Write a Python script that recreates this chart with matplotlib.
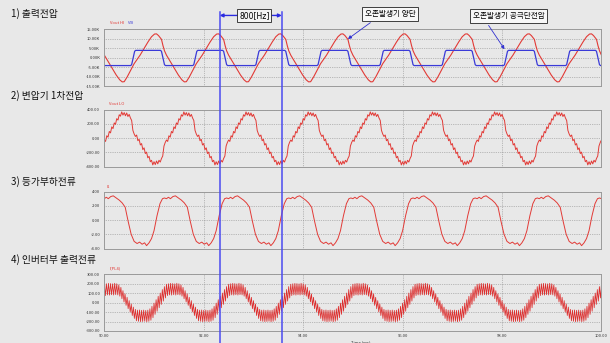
import numpy as np
import matplotlib.pyplot as plt
from matplotlib import transforms
from matplotlib.lines import Line2D

plt.rcParams['font.family'] = ['Noto Sans CJK KR', 'DejaVu Sans']

# time axis: 8 periods of 800 Hz between 90 ms and 100 ms
t_start = 90.0
t_end = 100.0
period = 1.25
n_periods = 8
x_ticks = [90, 92, 94, 96, 98, 100]
x_tick_labels = ['90.00', '92.00', '94.00', '96.00', '98.00', '100.00']

# 1) output voltage, one period read from the scope (kV)
vout_hi_phase = [0.00, 0.08, 0.16, 0.24, 0.31, 0.36, 0.40, 0.46, 0.54, 0.60, 0.64,
                 0.72, 0.80, 0.88, 0.95, 1.01, 1.05, 1.09, 1.15, 1.18, 1.21]
vout_hi_kv = [1.5, -2.0, -5.5, -9.0, -11.5, -12.6, -12.5, -10.0, -6.0, -3.0, -1.5,
              1.5, 5.0, 8.5, 11.2, 12.6, 12.7, 11.8, 9.8, 6.5, 3.8]
vb_phase = [0.00, 0.53, 0.55, 0.58, 0.61, 0.63, 1.13, 1.15, 1.18, 1.21, 1.23]
vb_kv = [-4.0, -4.0, -3.5, 0.0, 3.5, 4.0, 4.0, 3.5, 0.0, -3.5, -4.0]
y1_ticks = [15, 10, 5, 0, -5, -10, -15]
y1_labels = ['15.00K', '10.00K', '5.00K', '0.00K', '-5.00K', '-10.00K', '-15.00K']

# 2) transformer primary voltage (V)
vout_lo_phase = [0.000, 0.025, 0.050, 0.075, 0.100, 0.125, 0.150, 0.175, 0.200, 0.225,
                 0.250, 0.275, 0.300, 0.325, 0.350, 0.375, 0.400, 0.425, 0.450, 0.475,
                 0.500, 0.525, 0.550, 0.575, 0.600, 0.625, 0.650, 0.675, 0.700, 0.725,
                 0.750, 0.775, 0.800, 0.825, 0.850, 0.875, 0.900, 0.925, 0.950, 0.975,
                 1.000, 1.025, 1.050, 1.075, 1.100, 1.125, 1.150, 1.175, 1.200, 1.225]
vout_lo_v = [-25, -45, 35, 15, 95, 75, 160, 135, 215, 195,
             275, 255, 330, 310, 370, 325, 360, 315, 355, 305,
             335, 285, 250, 110, 60, 25, 45, -35, -15, -95,
             -75, -160, -135, -215, -195, -275, -255, -330, -310, -375,
             -330, -370, -320, -360, -310, -335, -285, -250, -110, -60]
y2_ticks = [400, 200, 0, -200, -400]
y2_labels = ['400.00', '200.00', '0.00', '-200.00', '-400.00']

# 3) equivalent load current (A)
i1_phase = [0.00, 0.04, 0.08, 0.13, 0.18, 0.24, 0.30, 0.36, 0.42, 0.48, 0.54, 0.60,
            0.66, 0.71, 0.76, 0.81, 0.85, 0.90, 0.95, 1.00, 1.06, 1.12, 1.17, 1.21]
i1_a = [3.0, 3.2, 3.0, 3.3, 3.4, 3.1, 2.8, 2.4, 1.8, -0.2, -2.0, -3.0,
        -3.3, -3.1, -3.4, -3.2, -3.6, -3.2, -2.6, -1.5, 0.6, 2.3, 3.0, 3.1]
y3_ticks = [4, 2, 0, -2, -4]
y3_labels = ['4.00', '2.00', '0.00', '-2.00', '-4.00']

# 4) inverter output current: switching ripple peaks over one period (A)
ripple_hi = [193, 198, 202, 200, 197, 203, 198, 187, 160, 125,
             92, 55, 20, -15, -48, -72, -80, -78, -82, -79,
             -83, -80, -66, -40, -6, 30, 66, 100, 137, 168]
ripple_lo = [73, 80, 78, 82, 79, 83, 80, 67, 40, 6,
             -30, -65, -100, -137, -168, -193, -198, -202, -200, -197,
             -203, -198, -187, -160, -125, -92, -55, -20, 15, 48]
y4_ticks = [300, 200, 100, 0, -100, -200, -300]
y4_labels = ['300.00', '200.00', '100.00', '0.00', '-100.00', '-200.00', '-300.00']

marker_times = [92.32, 93.57]

red = '#e23a36'
blue = '#3a3ad8'
bg = '#e8e8e8'


def repeat(phase, vals):
    t = np.concatenate([t_start + k * period + np.asarray(phase) for k in range(n_periods)])
    v = np.tile(vals, n_periods)
    return np.append(t, t_end), np.append(v, vals[0])


fig = plt.figure(figsize=(6.1, 3.43), dpi=100, facecolor=bg)

boxes = [0.748, 0.514, 0.2755, 0.035]
axes = []
for b in boxes:
    ax = fig.add_axes([0.171, b, 0.815, 0.166])
    ax.set_facecolor(bg)
    ax.set_xlim(t_start, t_end)
    ax.set_xticks(x_ticks)
    for s in ax.spines.values():
        s.set_color('#9a9a9a')
        s.set_linewidth(0.7)
    ax.grid(color='#8a8a8a', ls=(0, (1, 1.6)), lw=0.5)
    ax.tick_params(length=0, labelsize=3, pad=3, colors='#333333')
    ax.tick_params(axis='x', labelbottom=False)
    axes.append(ax)
ax1, ax2, ax3, ax4 = axes

# panel 1
t, v = repeat(vout_hi_phase, vout_hi_kv)
ax1.plot(t, v, color=red, lw=0.8)
t, v = repeat(vb_phase, vb_kv)
ax1.plot(t, v, color=blue, lw=0.9)
ax1.set_ylim(-15, 15)
ax1.set_yticks(y1_ticks, y1_labels)

# panel 2
t, v = repeat(vout_lo_phase, vout_lo_v)
ax2.plot(t, v, color=red, lw=0.7)
ax2.set_ylim(-400, 400)
ax2.set_yticks(y2_ticks, y2_labels)

# panel 3
t, v = repeat(i1_phase, i1_a)
ax3.plot(t, v, color=red, lw=0.7)
ax3.set_ylim(-4, 4)
ax3.set_yticks(y3_ticks, y3_labels)

# panel 4: interleave ripple highs and lows
n_sw = len(ripple_hi)
step = period / n_sw
rp = np.empty(2 * n_sw)
rv = np.empty(2 * n_sw)
rp[0::2] = np.arange(n_sw) * step
rp[1::2] = np.arange(n_sw) * step + step / 2
rv[0::2] = ripple_hi
rv[1::2] = ripple_lo
t, v = repeat(rp, rv)
ax4.plot(t, v, color='#dd2e2e', lw=0.55)
ax4.set_ylim(-300, 300)
ax4.set_yticks(y4_ticks, y4_labels)
ax4.tick_params(axis='x', labelbottom=True, pad=2)
ax4.set_xticks(x_ticks, x_tick_labels)
fig.text(0.575, 0.008, 'Time (ms)', fontsize=3, color='#333333', va='top')

# trace names
fig.text(0.180, 0.930, 'Vout HI', fontsize=3, color=red)
fig.text(0.210, 0.930, 'VB', fontsize=3, color=blue)
fig.text(0.178, 0.693, 'Vout LO', fontsize=3, color=red)
fig.text(0.174, 0.453, 'I1', fontsize=3, color=red)
fig.text(0.180, 0.214, 'I(PL4)', fontsize=3, color=red)

# panel titles
titles = ['1) 출력전압', '2) 변압기 1차전압', '3) 등가부하전류', '4) 인버터부 출력전류']
title_y = [14, 96, 182, 260]
for txt, y in zip(titles, title_y):
    fig.text(0.018, 1 - y / 343, txt, fontsize=7, va='center', color='#111111',
             fontweight='medium')

# vertical period markers
blend = transforms.blended_transform_factory(ax1.transData, fig.transFigure)
for xm in marker_times:
    fig.add_artist(Line2D([xm, xm], [0.0, 0.965], transform=blend,
                          color='#4b4bf0', lw=1.1))

# 800[Hz] label with arrows
fig.text(0.417, 0.955, '800[Hz]', fontsize=5.5, ha='center', va='center',
         family='DejaVu Sans',
         bbox=dict(boxstyle='square,pad=0.25', fc='#f4f4f4', ec='#222222', lw=0.6))
ax1.annotate('', xy=(marker_times[0], 0.955), xycoords=blend,
             xytext=(0.389, 0.955), textcoords='figure fraction',
             arrowprops=dict(arrowstyle='-|>', color='#2b2be0', lw=1.0,
                             mutation_scale=5, shrinkA=0, shrinkB=0),
             annotation_clip=False)
ax1.annotate('', xy=(marker_times[1], 0.955), xycoords=blend,
             xytext=(0.446, 0.955), textcoords='figure fraction',
             arrowprops=dict(arrowstyle='-|>', color='#2b2be0', lw=1.0,
                             mutation_scale=5, shrinkA=0, shrinkB=0),
             annotation_clip=False)

# callouts
box = dict(boxstyle='square,pad=0.35', fc='#f7f7f7', ec='#222222', lw=0.6)
ax1.annotate('오존발생기 양단', xy=(94.90, 10.0), xytext=(0.640, 0.959),
             textcoords='figure fraction', fontsize=5.5, ha='center', va='center',
             bbox=box, annotation_clip=False,
             arrowprops=dict(arrowstyle='-|>', color='#3030d0', lw=0.6,
                             mutation_scale=5, relpos=(0.23, 0), shrinkB=0))
ax1.annotate('오존발생기 공극단전압', xy=(98.05, 4.6), xytext=(0.834, 0.953),
             textcoords='figure fraction', fontsize=5.5, ha='center', va='center',
             bbox=box, annotation_clip=False,
             arrowprops=dict(arrowstyle='-|>', color='#3030d0', lw=0.6,
                             mutation_scale=5, relpos=(0.17, 0), shrinkB=0))

fig.savefig('out.png', dpi=100, facecolor=bg)
